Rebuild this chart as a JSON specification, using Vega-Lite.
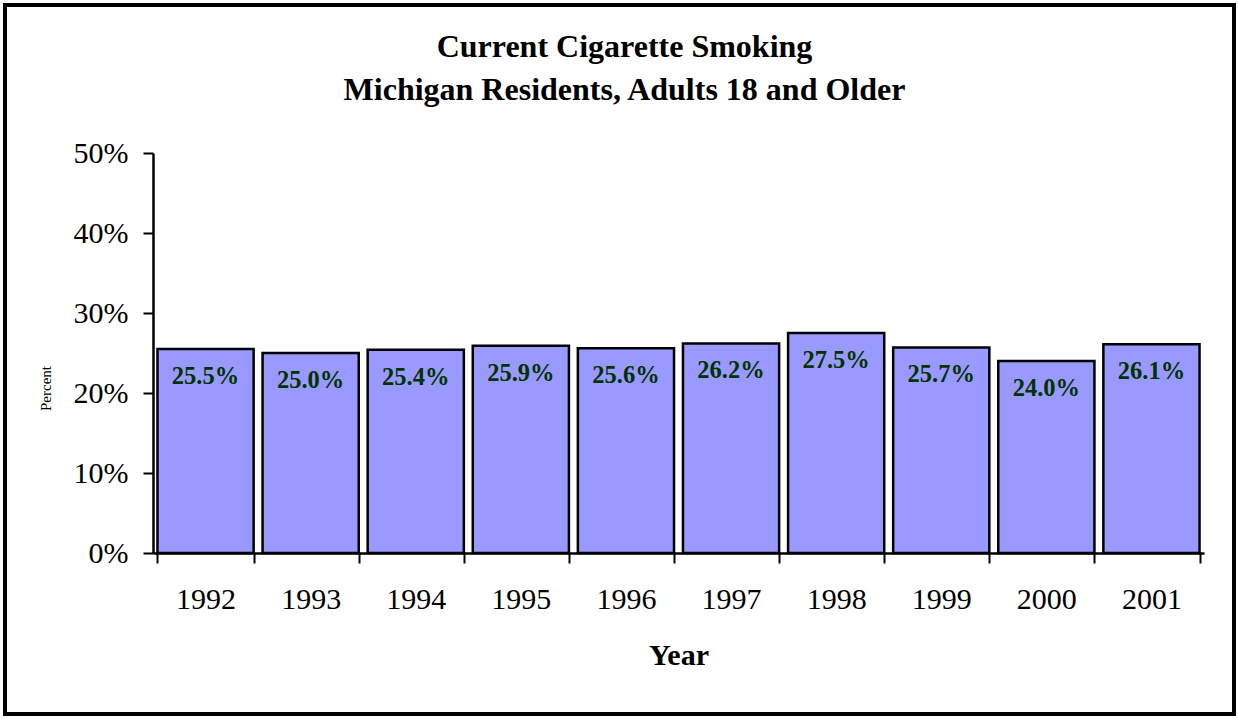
{
  "$schema": "https://vega.github.io/schema/vega-lite/v6.json",
  "autosize": {"type": "none"},
  "width": 1229,
  "height": 709,
  "padding": 5,
  "background": "white",
  "config": {
    "view": {"stroke": "black", "strokeWidth": 4, "fill": "white"},
    "font": "Liberation Serif"
  },
  "title": {
    "text": ["Current Cigarette Smoking", "Michigan Residents, Adults 18 and Older"],
    "font": "Liberation Serif",
    "fontSize": 32,
    "fontWeight": "bold",
    "color": "black",
    "lineHeight": 43,
    "anchor": "middle",
    "frame": "group",
    "baseline": "bottom",
    "offset": -134,
    "dx": 5
  },
  "data": {
    "values": [
      {"year": "1992", "pct": 0.255},
      {"year": "1993", "pct": 0.250},
      {"year": "1994", "pct": 0.254},
      {"year": "1995", "pct": 0.259},
      {"year": "1996", "pct": 0.256},
      {"year": "1997", "pct": 0.262},
      {"year": "1998", "pct": 0.275},
      {"year": "1999", "pct": 0.257},
      {"year": "2000", "pct": 0.240},
      {"year": "2001", "pct": 0.261}
    ]
  },
  "encoding": {
    "x": {
      "field": "year",
      "type": "ordinal",
      "scale": {"range": [148, 1199], "paddingInner": 0.085, "paddingOuter": 0.0425},
      "axis": {
        "orient": "bottom",
        "offset": -161,
        "title": "Year",
        "titleFont": "Liberation Serif",
        "titleFontSize": 30,
        "titleFontWeight": "bold",
        "titleColor": "black",
        "titlePadding": 26,
        "labelFont": "Liberation Serif",
        "labelFontSize": 30,
        "labelColor": "black",
        "labelAngle": 0,
        "labelPadding": 21,
        "tickBand": "extent",
        "tickSize": 10,
        "tickWidth": 2,
        "tickColor": "black",
        "domainColor": "black",
        "domainWidth": 2.5,
        "grid": false
      }
    },
    "y": {
      "field": "pct",
      "type": "quantitative",
      "scale": {"domain": [0, 0.5], "range": [548, 148], "nice": false},
      "axis": {
        "orient": "left",
        "offset": -148,
        "values": [0, 0.1, 0.2, 0.3, 0.4, 0.5],
        "format": ".0%",
        "labelFont": "Liberation Serif",
        "labelFontSize": 30,
        "labelColor": "black",
        "labelPadding": 15,
        "tickSize": 10,
        "tickWidth": 2,
        "tickColor": "black",
        "domainColor": "black",
        "domainWidth": 2.5,
        "grid": false,
        "title": "Percent",
        "titleFont": "Liberation Serif",
        "titleFontSize": 15,
        "titleFontWeight": "normal",
        "titleColor": "black",
        "titleX": -108,
        "titleY": 383,
        "titleAngle": -90,
        "titleBaseline": "middle",
        "titleAlign": "center"
      }
    }
  },
  "layer": [
    {
      "mark": {"type": "bar", "fill": "#9999FF", "stroke": "black", "strokeWidth": 2.5}
    },
    {
      "mark": {
        "type": "text",
        "baseline": "middle",
        "align": "center",
        "dy": 28,
        "font": "Liberation Serif",
        "fontSize": 24.5,
        "fontWeight": "bold",
        "color": "#003300"
      },
      "encoding": {
        "text": {"field": "pct", "type": "quantitative", "format": ".1%"}
      }
    }
  ]
}
